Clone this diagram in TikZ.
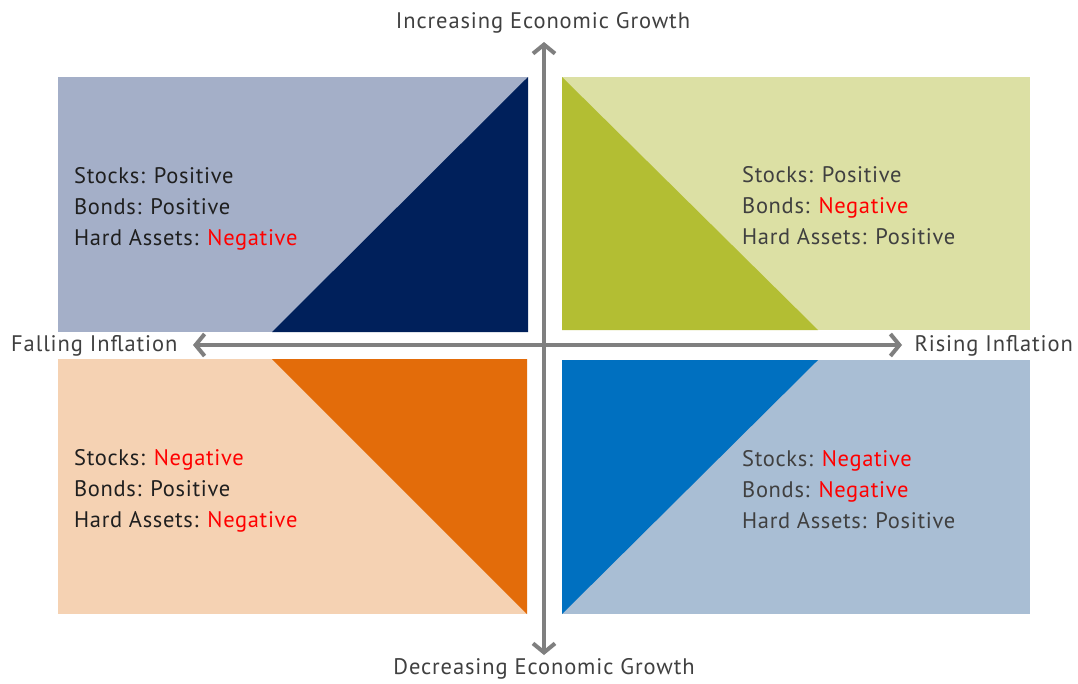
\documentclass[tikz,border=0pt]{standalone}
\usepackage{fontspec}
\setmainfont{PT Sans}
\newfontfamily\bodyfont[LetterSpace=3]{PT Sans}
\newfontfamily\labelfont[LetterSpace=4]{PT Sans}
\usetikzlibrary{arrows.meta}
\definecolor{tlbg}{HTML}{A4AFC8}
\definecolor{tltri}{HTML}{00205B}
\definecolor{trbg}{HTML}{DCE0A4}
\definecolor{trtri}{HTML}{B3BE33}
\definecolor{blbg}{HTML}{F5D2B3}
\definecolor{bltri}{HTML}{E36C0A}
\definecolor{brbg}{HTML}{A9BED4}
\definecolor{brtri}{HTML}{0070C0}
\definecolor{axisgray}{HTML}{7F7F7F}
\definecolor{txt}{HTML}{1F1F1F}
\definecolor{axtxt}{HTML}{404040}
\definecolor{neg}{HTML}{FF0000}
\tikzset{
  axisline/.style={draw=axisgray, line width=4pt, -{Straight Barb[length=9pt,width=22pt,line width=4pt]}},
  quadtext/.style={anchor=west, align=left, text=txt, font=\bodyfont\fontsize{22.5}{31}\selectfont, inner sep=0pt},
  axislabel/.style={text=axtxt, font=\labelfont\fontsize{22.5}{24}\selectfont, inner sep=0pt},
}
\newcommand{\negw}{\textcolor{neg}{Negative}}
\begin{document}
\begin{tikzpicture}[x=1pt,y=-1pt]
\useasboundingbox (0,0) rectangle (1078,683);
\fill[white] (0,0) rectangle (1078,683);
% quadrants
\fill[tlbg] (58,77) rectangle (528,332);
\fill[tltri] (528,77) -- (528,332) -- (272,332) -- cycle;
\fill[trbg] (562,77) rectangle (1030,330);
\fill[trtri] (562,77) -- (562,330) -- (818,330) -- cycle;
\fill[blbg] (58,359) rectangle (527,614);
\fill[bltri] (272,359) -- (527,359) -- (527,614) -- cycle;
\fill[brbg] (562,360) rectangle (1030,614);
\fill[brtri] (562,360) -- (818,360) -- (562,614) -- cycle;
% axes
\coordinate (c) at (544,345);
\coordinate (up) at (544,42);
\coordinate (down) at (544,655);
\coordinate (left) at (193,345);
\coordinate (right) at (902,345);
\draw[axisline] (c) -- (up);
\draw[axisline] (c) -- (down);
\draw[axisline] (c) -- (left);
\draw[axisline] (c) -- (right);
% axis labels
\node[axislabel] (lup) at (543,23) {Increasing Economic Growth};
\node[axislabel] (ldown) at (544,669) {Decreasing Economic Growth};
\node[axislabel, anchor=west] (lleft) at (11,346) {Falling Inflation};
\node[axislabel, anchor=east] (lright) at (1073,346) {Rising Inflation};
% quadrant texts
\node[quadtext] (ttl) at (74,209) {Stocks: Positive\\Bonds: Positive\\Hard Assets: \negw};
\node[quadtext, text=axtxt] (ttr) at (742,206) {Stocks: Positive\\Bonds: \negw\\Hard Assets: Positive};
\node[quadtext] (tbl) at (74,491) {Stocks: \negw\\Bonds: Positive\\Hard Assets: \negw};
\node[quadtext, text=axtxt] (tbr) at (742,490) {Stocks: \negw\\Bonds: \negw\\Hard Assets: Positive};
\end{tikzpicture}
\end{document}
